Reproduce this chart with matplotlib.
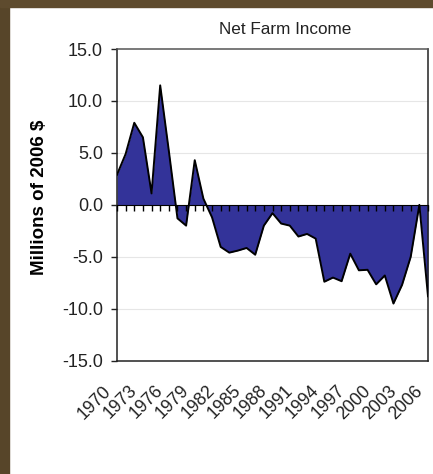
import matplotlib
matplotlib.use("Agg")
import matplotlib.pyplot as plt
import matplotlib.patches as mpatches
import matplotlib.transforms as mtransforms

plt.rcParams['font.family'] = ['Liberation Sans', 'DejaVu Sans']
plt.rcParams['axes.unicode_minus'] = False

# net farm income, millions of 2006 $
years = list(range(1970, 2007))
income = [2.9, 4.9, 7.9, 6.5, 1.1, 11.5, 5.2, -1.3, -2.0, 4.3,
          0.6, -1.2, -4.05, -4.6, -4.4, -4.15, -4.8, -2.0, -0.8, -1.8,
          -2.0, -3.05, -2.8, -3.25, -7.4, -7.0, -7.35, -4.7, -6.3, -6.25,
          -7.65, -6.8, -9.5, -7.7, -5.0, 0.0, -8.8]
label_years = years[::3]
yticks = [-15, -10, -5, 0, 5, 10, 15]
YMIN, YMAX = -15, 15

fig = plt.figure(figsize=(4.33, 4.74), dpi=100)
fig.patch.set_facecolor('white')

# wood-ish border strips on the left and top
fig.patches.append(mpatches.Rectangle((0, 0), 9/433, 1, transform=fig.transFigure,
                                      color='#574529', zorder=0))
fig.patches.append(mpatches.Rectangle((0, 1 - 7/474), 1, 7/474, transform=fig.transFigure,
                                      color='#5e4b2e', zorder=0))

ax = fig.add_axes([117/433, 1 - 360.7/474, 311/433, 311.7/474])
ax.fill_between(years, income, 0, color='#333399', linewidth=0, zorder=2)
ax.plot(years, income, color='black', linewidth=1.4, zorder=3)

ax.set_xlim(years[0], years[-1])
ax.set_ylim(YMIN, YMAX)
ax.set_yticks(yticks)
ax.set_yticklabels(['%.1f' % v for v in yticks], fontsize=13, color='#222222')
for v in yticks:
    if v not in (YMIN, 0, YMAX):
        ax.axhline(v, color='#e6e6e6', linewidth=0.8, zorder=1)

# year labels under the plot, every third year
ax.set_xticks([])
lbl_trans = mtransforms.blended_transform_factory(ax.transData, ax.transAxes) + \
    mtransforms.ScaledTranslation(-10.3/72, -15.6/72, fig.dpi_scale_trans)
for y in label_years:
    ax.text(y, 0, str(y), transform=lbl_trans, fontsize=12.8, color='#222222',
            rotation=45, ha='right', va='top', rotation_mode='anchor', clip_on=False)

ax.tick_params(axis='y', length=4, width=1, color='#222222', pad=6)

for side in ['left', 'right', 'bottom']:
    ax.spines[side].set_color('#222222')
    ax.spines[side].set_linewidth(1.1)
ax.spines['top'].set_color('#555555')
ax.spines['top'].set_linewidth(1.1)

# category axis crossing at zero, ticks for every year pointing down
zero_loc = (0 - YMIN) / (YMAX - YMIN)
sec = ax.secondary_xaxis(zero_loc)
sec.set_zorder(10)
sec.set_xticks(years, labels=[])
sec.tick_params(axis='x', direction='in', length=4, width=1, color='black',
                labelbottom=False, labeltop=False)
sec.spines['bottom'].set_color('black')
sec.spines['bottom'].set_linewidth(1.6)

fig.text(285/433, 1 - 30/474, 'Net Farm Income', ha='center', va='center',
         fontsize=12.3, color='#222222')
fig.text(40/433, 1 - 197/474, 'Millions of 2006 $', ha='center', va='center',
         rotation=90, fontsize=13.5, fontweight='bold', color='black')

fig.savefig('out.png', dpi=100)
